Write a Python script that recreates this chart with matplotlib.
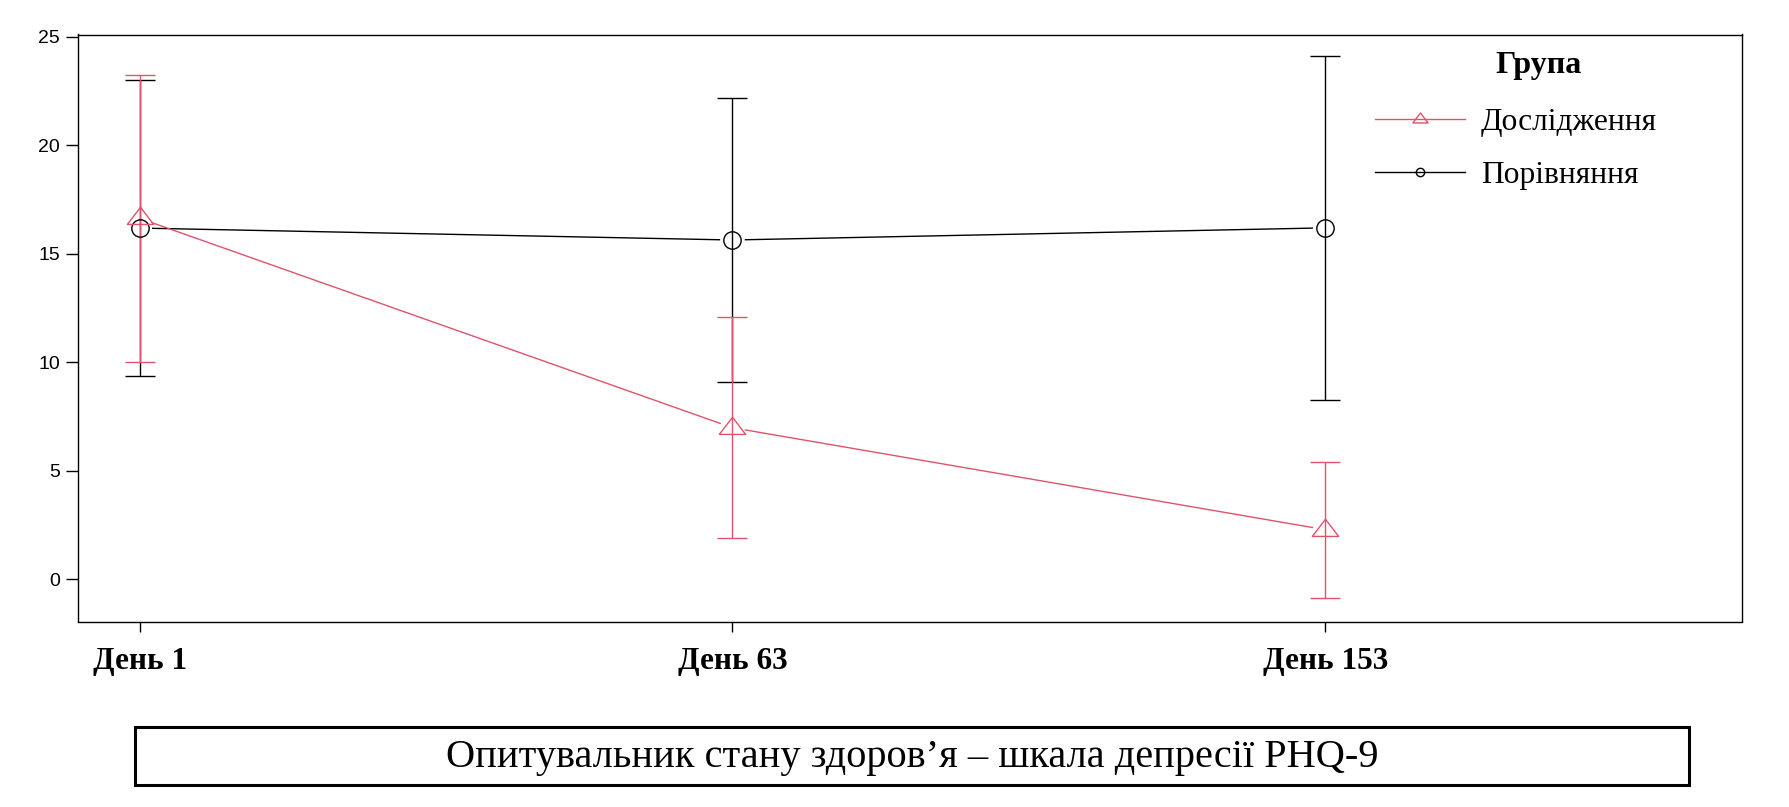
import matplotlib
matplotlib.use("Agg")
import matplotlib.pyplot as plt
import matplotlib.transforms as mtransforms
import numpy as np
from matplotlib.lines import Line2D
from matplotlib.patches import Rectangle
from matplotlib.path import Path

days = ["День 1", "День 63", "День 153"]
groups = ["Дослідження", "Порівняння"]
study_mean = [16.63, 6.98, 2.28]
study_err = [6.62, 5.10, 3.14]
comp_mean = [16.18, 15.63, 16.19]
comp_err = [6.82, 6.54, 7.93]
yticks = [0, 5, 10, 15, 20, 25]
title_text = "Група"
caption = "Опитувальник стану здоров’я – шкала депресії PHQ-9"

RED = "#DF536B"
BLACK = "#000000"
W, H = 1790, 807
fig = plt.figure(figsize=(W / 100, H / 100), dpi=100)
left, right, top, bottom = 78, 1742, 34.5, 621.5
ax = fig.add_axes([left / W, 1 - bottom / H, (right - left) / W, (bottom - top) / H])

tri = Path([(-1, -0.45), (1, -0.45), (0, 0.85), (-1, -0.45)],
           [Path.MOVETO, Path.LINETO, Path.LINETO, Path.CLOSEPOLY])

x = list(range(1, len(days) + 1))
ax.set_xlim(0.896, 3.703)
ax.set_ylim(-1.95, 25.1)


def gapped_line(xs, ys, color, gap_px=13):
    pts = ax.transData.transform(np.column_stack([xs, ys]))
    inv = ax.transData.inverted()
    for p0, p1 in zip(pts[:-1], pts[1:]):
        d = p1 - p0
        L = np.hypot(*d)
        u = d / L
        a = inv.transform(p0 + u * gap_px)
        b = inv.transform(p1 - u * gap_px)
        ax.plot([a[0], b[0]], [a[1], b[1]], color=color, lw=1.0)


gapped_line(x, comp_mean, BLACK)
gapped_line(x, study_mean, RED)

ax.errorbar(x, comp_mean, yerr=comp_err, color=BLACK, ls="none", elinewidth=1.0,
            capsize=11, capthick=1.0, marker="o", ms=12.5, mfc="none", mec=BLACK, mew=1.0)
ax.errorbar(x, study_mean, yerr=study_err, color=RED, ls="none", elinewidth=1.0,
            capsize=11, capthick=1.0, marker=tri, ms=19, mfc="none", mec=RED, mew=1.0)

ax.set_xticks(x)
ax.set_xticklabels(days, fontfamily="Liberation Serif", fontweight="bold", fontsize=22.5)
shift = mtransforms.ScaledTranslation(6 / 100, 0, fig.dpi_scale_trans)
for lab in ax.get_xticklabels():
    lab.set_transform(lab.get_transform() + shift)
ax.set_yticks(yticks)
ax.set_yticklabels([str(v) for v in yticks], fontfamily="Liberation Sans", fontsize=14)
ax.tick_params(axis="y", length=9, width=1.0, pad=4)
ax.tick_params(axis="x", length=7.5, width=1.0, pad=11)
for s in ax.spines.values():
    s.set_linewidth(1.0)

handles = [
    Line2D([], [], color=RED, lw=1.0, marker=tri, ms=11, mfc="none", mec=RED, mew=1.0),
    Line2D([], [], color=BLACK, lw=1.0, marker="o", ms=6, mfc="none", mec=BLACK, mew=1.0),
]
leg = ax.legend(handles, groups, loc="upper left", bbox_to_anchor=(1359.5 / W, 1 - 92 / H),
                bbox_transform=fig.transFigure, frameon=False,
                prop={"family": "Liberation Serif", "size": 22.7},
                handlelength=2.85, handletextpad=0.5, labelspacing=0.75, borderpad=0)
fig.text(1539 / W, 1 - 65 / H, title_text, ha="center", va="center",
         fontfamily="Liberation Serif", fontweight="bold", fontsize=23)

fig.add_artist(Rectangle((135 / W, 1 - 785 / H), (1689 - 135) / W, (785 - 727) / H,
                         transform=fig.transFigure, fill=False, lw=2.2, ec="black"))
fig.text(912 / W, 1 - 758 / H, caption, ha="center", va="center",
         fontfamily="Liberation Serif", fontsize=29.1)

fig.savefig("out.png", dpi=100, facecolor="white")
